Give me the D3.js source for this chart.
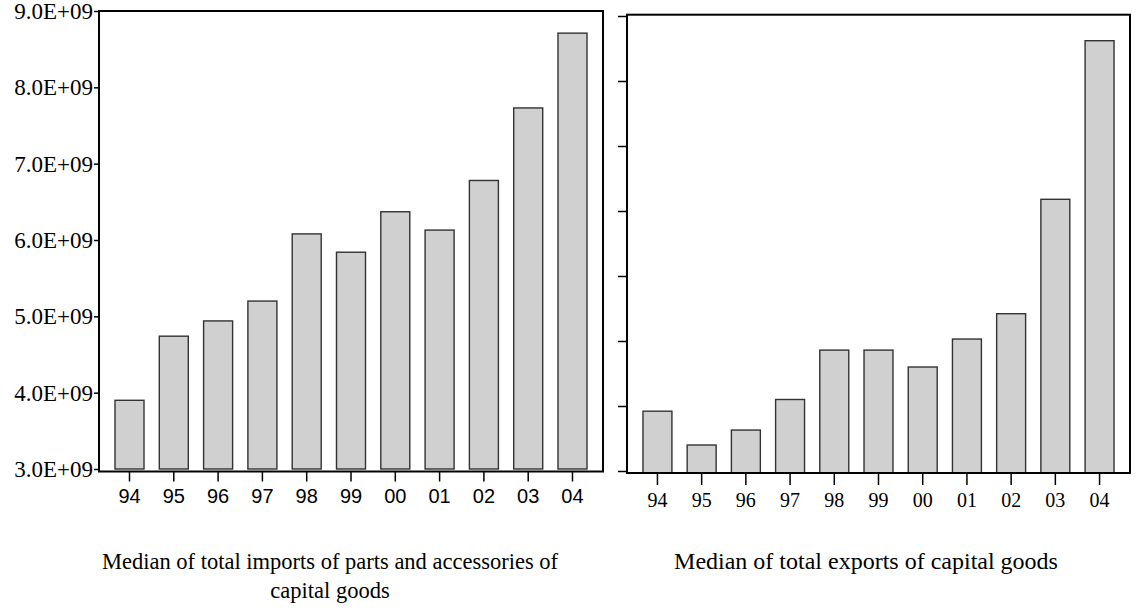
<!DOCTYPE html>
<html>
<head>
<meta charset="utf-8">
<script src="https://cdn.jsdelivr.net/npm/d3@7"></script>
<style>
  html, body { margin: 0; padding: 0; background: #fff; }
  svg { display: block; }
</style>
</head>
<body>
<svg id="chart" width="1138" height="611"></svg>
<script>
const years = ["94","95","96","97","98","99","00","01","02","03","04"];
const importsValues = [3.90e9, 4.74e9, 4.94e9, 5.20e9, 6.08e9, 5.84e9, 6.37e9, 6.13e9, 6.78e9, 7.73e9, 8.71e9];
const importsTicks = [3e9, 4e9, 5e9, 6e9, 7e9, 8e9, 9e9];
// right panel: axis has unlabeled ticks; values in tick units
const exportsValues = [0.92, 0.40, 0.63, 1.10, 1.86, 1.86, 1.60, 2.03, 2.42, 4.18, 6.62];
const exportsTicks = [0, 1, 2, 3, 4, 5, 6, 7];
const leftTitle = ["Median of total imports of parts and accessories of", "capital goods"];
const rightTitle = ["Median of total exports of capital goods"];

const svg = d3.select("#chart");
const serif = "'Liberation Serif', 'Times New Roman', serif";
const sans = "'Liberation Sans', Arial, sans-serif";
const barFill = "#d0d0d0", barStroke = "#333333";

function panel(opts) {
  const g = svg.append("g");
  const x = d3.scaleBand().domain(years).range([opts.x0, opts.x1])
    .paddingInner(0.345).paddingOuter(0.361);
  const y = d3.scaleLinear().domain(opts.domain).range([opts.yBase, opts.yTop]);

  // bars
  g.selectAll("rect.bar").data(opts.values).enter().append("rect")
    .attr("class", "bar")
    .attr("x", (d, i) => x(years[i]))
    .attr("width", x.bandwidth())
    .attr("y", d => y(d))
    .attr("height", d => opts.barBottom - y(d))
    .attr("fill", barFill)
    .attr("stroke", barStroke)
    .attr("stroke-width", 1.4);

  // frame
  g.append("rect")
    .attr("x", opts.x0).attr("y", opts.frameTop)
    .attr("width", opts.x1 - opts.x0).attr("height", opts.frameBottom - opts.frameTop)
    .attr("fill", "none").attr("stroke", "#000").attr("stroke-width", 2);

  // y axis
  const yAxis = d3.axisLeft(y).tickValues(opts.ticks).tickSize(opts.yTickLen).tickPadding(1)
    .tickFormat(opts.yFormat);
  const ya = g.append("g").attr("transform", `translate(${opts.x0},0)`).call(yAxis);
  ya.select(".domain").remove();
  ya.selectAll(".tick line").attr("stroke", "#000").attr("stroke-width", 1.5);
  ya.selectAll(".tick text").attr("font-family", serif).attr("font-size", 23)
    .attr("fill", "#000").attr("dy", "0.33em");

  // x axis
  const xAxis = d3.axisBottom(x).tickSize(opts.xTickLen).tickPadding(opts.xPad);
  const xa = g.append("g").attr("transform", `translate(0,${opts.frameBottom})`).call(xAxis);
  xa.select(".domain").remove();
  xa.selectAll(".tick line").attr("stroke", "#000").attr("stroke-width", 1.5);
  xa.selectAll(".tick text").attr("font-family", opts.xFont).attr("font-size", opts.xFontSize)
    .attr("fill", "#000");

  // title
  const t = g.append("text").attr("text-anchor", "middle")
    .attr("font-family", serif).attr("font-size", opts.titleSize).attr("fill", "#000");
  opts.title.forEach((line, i) => {
    t.append("tspan").attr("x", opts.titleX).attr("y", 569 + i * 29).text(line);
  });
}

panel({
  x0: 99, x1: 603, frameTop: 11, frameBottom: 471.5,
  domain: [3e9, 9e9], yBase: 469, yTop: 11, barBottom: 469,
  values: importsValues, ticks: importsTicks, yTickLen: 5,
  yFormat: d => (d / 1e9).toFixed(1) + "E+09",
  xTickLen: 10, xPad: 7, xFont: sans, xFontSize: 20,
  title: leftTitle, titleX: 330, titleSize: 22.5
});

panel({
  x0: 627, x1: 1130, frameTop: 14.7, frameBottom: 473,
  domain: [0, 7], yBase: 471, yTop: 16, barBottom: 473,
  values: exportsValues, ticks: exportsTicks, yTickLen: 9,
  yFormat: () => "",
  xTickLen: 12, xPad: 8, xFont: serif, xFontSize: 20,
  title: rightTitle, titleX: 866, titleSize: 24
});
</script>
</body>
</html>
